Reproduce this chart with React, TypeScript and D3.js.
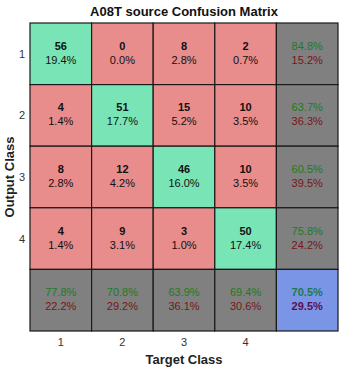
import React from 'react';
import * as d3 from 'd3';

const classes = ['1', '2', '3', '4'];
// rows = output class, columns = target class
const counts = [
  [56, 0, 8, 2],
  [4, 51, 15, 10],
  [8, 12, 46, 10],
  [4, 9, 3, 50],
];
const rowCorrect = ['84.8%', '63.7%', '60.5%', '75.8%'];
const rowWrong = ['15.2%', '36.3%', '39.5%', '24.2%'];
const colCorrect = ['77.8%', '70.8%', '63.9%', '69.4%'];
const colWrong = ['22.2%', '29.2%', '36.1%', '30.6%'];
const totalCorrect = '70.5%';
const totalWrong = '29.5%';

const W = 350;
const H = 370;
const margin = { top: 23, right: 12, bottom: 39, left: 30 };

export default function App() {
  const total = d3.sum(counts.flat());
  const idx = d3.range(5).map(String);
  const x = d3.scaleBand().domain(idx).range([margin.left, W - margin.right]);
  const y = d3.scaleBand().domain(idx).range([margin.top, H - margin.bottom]);
  const bw = x.bandwidth();
  const bh = y.bandwidth();
  const font = 'Arial, "Liberation Sans", Helvetica, sans-serif';

  const cells: React.ReactNode[] = [];
  counts.forEach((row, i) => {
    row.forEach((v, j) => {
      const cx = x(String(j))!;
      const cy = y(String(i))!;
      cells.push(
        <g key={`c${i}-${j}`}>
          <rect x={cx} y={cy} width={bw} height={bh} fill={i === j ? '#79e5b6' : '#e88c8c'} stroke="#1a1a1a" strokeWidth={1.2} />
          <text x={cx + bw / 2} y={cy + bh / 2 - 4} textAnchor="middle" fontWeight="bold" fontSize={11} fill="#111">{v}</text>
          <text x={cx + bw / 2} y={cy + bh / 2 + 10} textAnchor="middle" fontSize={11} fill="#111">{((v / total) * 100).toFixed(1)}%</text>
        </g>
      );
    });
  });

  const summary = (key: string, cx: number, cy: number, a: string, b: string, fill: string, bold = false) => (
    <g key={key}>
      <rect x={cx} y={cy} width={bw} height={bh} fill={fill} stroke="#1a1a1a" strokeWidth={1.2} />
      <text x={cx + bw / 2} y={cy + bh / 2 - 4} textAnchor="middle" fontSize={11} fontWeight={bold ? 'bold' : 'normal'} fill={bold ? '#1c7a4a' : '#1f7a1f'}>{a}</text>
      <text x={cx + bw / 2} y={cy + bh / 2 + 10} textAnchor="middle" fontSize={11} fontWeight={bold ? 'bold' : 'normal'} fill={bold ? '#5a1050' : '#7a1515'}>{b}</text>
    </g>
  );

  classes.forEach((_, i) => {
    cells.push(summary(`r${i}`, x('4')!, y(String(i))!, rowCorrect[i], rowWrong[i], '#808080'));
    cells.push(summary(`b${i}`, x(String(i))!, y('4')!, colCorrect[i], colWrong[i], '#808080'));
  });
  cells.push(summary('t', x('4')!, y('4')!, totalCorrect, totalWrong, '#7b95e6', true));

  return (
    <svg width={W} height={H} style={{ position: 'absolute', left: 0, top: 0, background: '#fff' }} fontFamily={font}>
      <text x={(margin.left + W - margin.right) / 2} y={16} textAnchor="middle" fontWeight="bold" fontSize={13} fill="#111">A08T source Confusion Matrix</text>
      {cells}
      {classes.map((c, i) => (
        <text key={`yl${c}`} x={margin.left - 5} y={y(String(i))! + bh / 2 + 4} textAnchor="end" fontSize={11} fill="#333">{c}</text>
      ))}
      {classes.map((c, i) => (
        <text key={`xl${c}`} x={x(String(i))! + bw / 2} y={H - margin.bottom + 15} textAnchor="middle" fontSize={11} fill="#333">{c}</text>
      ))}
      <text x={(margin.left + W - margin.right) / 2} y={H - 6} textAnchor="middle" fontWeight="bold" fontSize={13} fill="#222">Target Class</text>
      <text transform={`translate(14,${(margin.top + H - margin.bottom) / 2}) rotate(-90)`} textAnchor="middle" fontWeight="bold" fontSize={13} fill="#222">Output Class</text>
    </svg>
  );
}
